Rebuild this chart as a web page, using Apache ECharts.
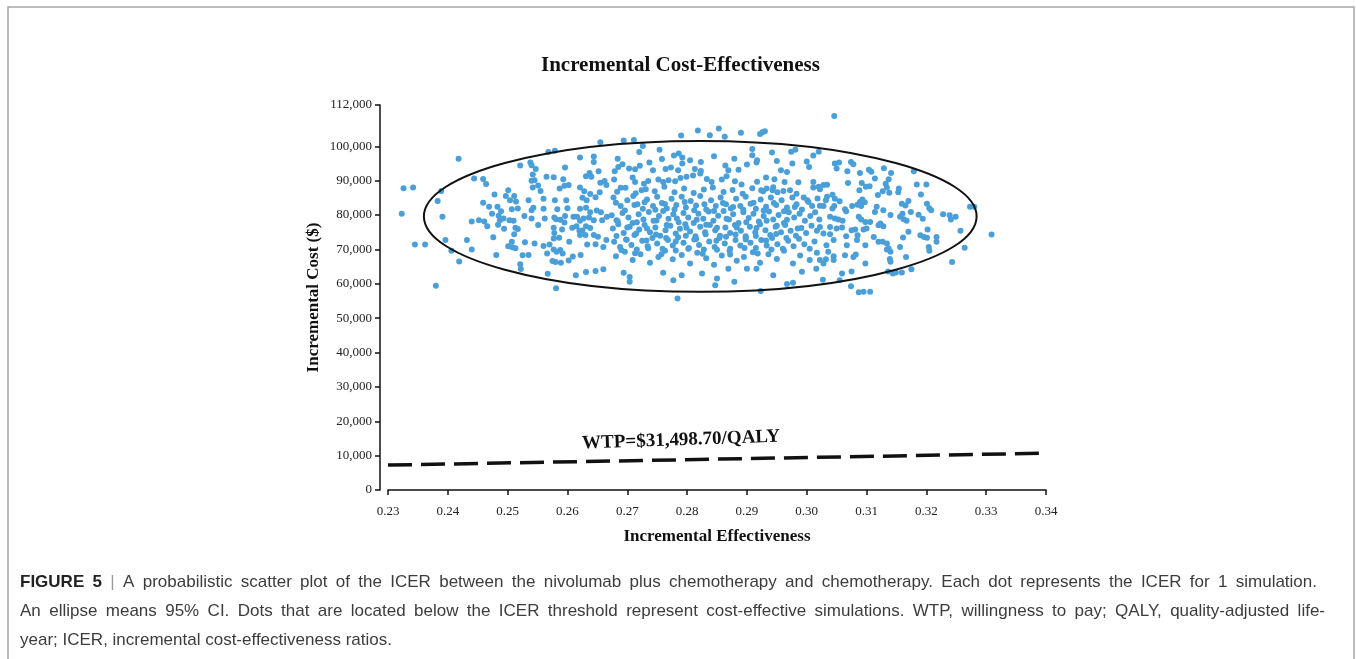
<!DOCTYPE html>
<html>
<head>
<meta charset="utf-8">
<title>Incremental Cost-Effectiveness</title>
<script src="https://cdn.jsdelivr.net/npm/echarts@6/dist/echarts.min.js"></script>
<style>
html,body{margin:0;padding:0;background:#fff;}
#main{width:1356px;height:659px;}
</style>
</head>
<body>
<div id="main"></div>
<script>
// axis ranges (x = incremental effectiveness, y = incremental cost in $)
var xRange = [0.23, 0.34, 0.01];
var yRange = [0, 112000];
var yTicks = [0, 10000, 20000, 30000, 40000, 50000, 60000, 70000, 80000, 90000, 100000, 112000];

// simulations: [effectiveness, cost]
var leftPoints = [
	[0.2418,96400],[0.2326,87800],[0.2342,88000],[0.2323,80400],[0.2345,71400],[0.2362,71400],[0.2380,59400],[0.2389,87000],
	[0.2383,84100],[0.2391,79500],[0.2396,72700],[0.2406,69600],[0.2419,66500],[0.2432,72700],[0.2440,70000],[0.2444,90600],
	[0.2459,90500],[0.2464,89000],[0.2440,78100],[0.2452,78500],[0.2461,78100],[0.2466,76700],[0.2459,83600],[0.2469,82400],
	[0.2478,86000],[0.2476,73500],[0.2481,68400],[0.2474,80400],[0.2483,82400],[0.2485,79800],[0.2484,77200],[0.2489,81100],
	[0.2487,78500],[0.2493,79000],[0.2494,76000],[0.2501,87200],[0.2497,85500],[0.2504,84300],[0.2511,85500],[0.2514,83900],
	[0.2507,81700],[0.2517,81900],[0.2503,78500],[0.2510,78300],[0.2513,76300],[0.2517,75900],[0.2511,74400],[0.2501,70900],
	[0.2507,72200],[0.2513,70300],[0.2508,70600],[0.2521,94400],[0.2538,95300],[0.2540,94500],[0.2547,93400],[0.2542,91800],
	[0.2540,90000],[0.2545,90100],[0.2542,88000],[0.2551,88600],[0.2555,87000],[0.2535,84300],[0.2540,81400],[0.2543,82100],
	[0.2528,79700],[0.2540,79000],[0.2551,77100],[0.2529,72100],[0.2545,71700],[0.2525,68300],[0.2535,68400],[0.2521,65700],
	[0.2522,64300],[0.2560,84700],[0.2560,81800],[0.2565,91100],[0.2577,91000],[0.2579,84300],[0.2583,81700],[0.2578,79300],
	[0.2581,78800],[0.2588,78600],[0.2595,77800],[0.2562,79000],[0.2577,76300],[0.2578,74800],[0.2577,73200],[0.2586,73400],
	[0.2591,75800],[0.2560,71000],[0.2570,71400],[0.2566,68800],[0.2577,70000],[0.2582,69300],[0.2588,69800],[0.2592,68800],
	[0.2575,66600],[0.2580,66300],[0.2589,66100],[0.2602,66800],[0.2609,67900],[0.2622,68400],[0.2567,62900],[0.2581,58700],
	[0.2568,98300],[0.2579,98700],[0.2596,93800],[0.2593,90400],[0.2587,87700],[0.2595,88500],[0.2602,88700],[0.2598,84300],
	[0.2600,82000],[0.2596,79700],[0.2610,79500],[0.2608,76300],[0.2603,72200],[0.2614,62500],[0.2621,96700],[0.2631,91300],
	[0.2640,91100],[0.2644,97000],[0.2644,95400],[0.2652,92700],[0.2637,92200],[0.2621,88000],[0.2628,86900],[0.2638,86100],
	[0.2625,85000],[0.2632,84300],[0.2647,85200],[0.2654,86600],[0.2655,89400],[0.2662,89900],[0.2665,88700],[0.2621,81800],
	[0.2631,82100],[0.2638,80800],[0.2649,81300],[0.2656,80800],[0.2616,79500],[0.2621,78300],[0.2627,79000],[0.2636,79300],
	[0.2644,78500],[0.2658,78500],[0.2666,79500],[0.2615,76700],[0.2620,75400],[0.2625,75500],[0.2631,76700],[0.2638,76200],
	[0.2621,74200],[0.2630,74200],[0.2644,74200],[0.2651,73700],[0.2633,71400],[0.2647,71500],[0.2660,70700],[0.2665,72700],
	[0.2631,63400],[0.2647,63700],[0.2660,64200],[0.2655,101200]
];

var centreTopPoints = [
	[0.2790,103100],[0.2818,104600],[0.2838,103200],[0.2853,105200],[0.2863,102800],[0.2890,103900],[0.2922,103600],[0.2926,104100],
	[0.2930,104400],[0.2694,101700],[0.2711,101800],[0.2726,100100],[0.2720,98300],[0.2754,99000],[0.2786,97900],[0.2792,96700],
	[0.2778,97300],[0.2758,96300],[0.2845,97100],[0.2879,96400],[0.2909,99200],[0.2909,97400],[0.2917,95900],[0.2942,98200],
	[0.2950,95700],[0.2974,98400],[0.2981,99000],[0.3000,95600],[0.3011,97300],[0.3020,98400],[0.3004,94000],[0.2684,96400],
	[0.2685,94000],[0.2679,92700],[0.2692,94800],[0.2703,93500],[0.2713,93300],[0.2721,94300],[0.2737,95300],[0.2743,93000],
	[0.2764,93400],[0.2773,93800],[0.2785,93000],[0.2792,95000],[0.2805,95900],[0.2823,95400],[0.2813,93400],[0.2823,92800],
	[0.2864,94400],[0.2869,93000],[0.2886,93200],[0.2900,94700],[0.2916,95300],[0.2932,90900],[0.2946,90400],[0.2957,93000],
	[0.2967,92500],[0.2976,95000],[0.2986,89500],[0.3011,89600],[0.3020,88200],[0.2678,90300],[0.2689,87900],[0.2709,90900],
	[0.2713,89600],[0.2728,89100],[0.2735,89900],[0.2724,87200],[0.2752,90300],[0.2760,89600],[0.2769,90100],[0.2780,89800],
	[0.2789,90800],[0.2799,91100],[0.2810,91500],[0.2822,92100],[0.2833,90500],[0.2841,89600],[0.2858,90300],[0.2866,91300],
	[0.2880,89800],[0.2891,88900],[0.2917,89700],[0.2924,87200],[0.2933,87700],[0.2943,87200],[0.2951,86600],[0.2963,89600],
	[0.2972,87200],[0.2983,86200],[0.2995,85100],[0.3003,83800],[0.3011,88000]
];

var centreBandPoints = [
	[0.2677,85100],[0.2689,82600],[0.2700,84300],[0.2710,85500],[0.2717,83100],[0.2726,81800],[0.2733,84500],[0.2743,82600],
	[0.2750,85300],[0.2758,83500],[0.2766,81900],[0.2774,84700],[0.2782,82900],[0.2791,85300],[0.2798,82200],[0.2806,84100],
	[0.2815,82800],[0.2822,85500],[0.2832,81600],[0.2840,84300],[0.2848,82600],[0.2856,85100],[0.2865,83100],[0.2873,81900],
	[0.2882,84700],[0.2889,82600],[0.2898,85300],[0.2906,83300],[0.2915,81800],[0.2923,84500],[0.2932,82400],[0.2940,85100],
	[0.2949,82900],[0.2958,84300],[0.2967,82200],[0.2976,85100],[0.2983,83100],[0.2992,81600],[0.3001,84300],[0.3009,82600],
	[0.3018,84800],
	[0.2674,79900],[0.2682,78500],[0.2692,80600],[0.2702,79300],[0.2709,77700],[0.2719,80200],[0.2727,78700],[0.2736,80900],
	[0.2744,78300],[0.2753,79700],[0.2760,81200],[0.2769,78900],[0.2777,80200],[0.2786,77900],[0.2794,80600],[0.2802,79300],
	[0.2811,77700],[0.2819,80400],[0.2827,78900],[0.2836,81000],[0.2844,78300],[0.2852,79800],[0.2861,81200],[0.2870,78700],
	[0.2877,80200],[0.2886,77700],[0.2894,80800],[0.2903,79100],[0.2911,80400],[0.2920,78100],[0.2928,79700],[0.2937,81000],
	[0.2944,78700],[0.2953,80000],[0.2962,77700],[0.2970,80800],[0.2979,79300],[0.2988,80400],[0.2997,78300],[0.3006,79700],
	[0.3014,80800],[0.3021,78700],
	[0.2676,76100],[0.2685,77300],[0.2694,74800],[0.2704,76600],[0.2712,74200],[0.2720,75800],[0.2729,77100],[0.2738,75000],
	[0.2747,76400],[0.2755,74000],[0.2764,75600],[0.2772,76900],[0.2781,74600],[0.2788,76000],[0.2797,77300],[0.2805,75200],
	[0.2814,73800],[0.2822,76600],[0.2830,75000],[0.2838,77100],[0.2847,75600],[0.2855,74000],[0.2864,76400],[0.2872,74800],
	[0.2880,77100],[0.2890,75400],[0.2898,73800],[0.2905,76600],[0.2914,75000],[0.2922,77300],[0.2931,75600],[0.2939,74200],
	[0.2948,76600],[0.2957,75000],[0.2964,77100],[0.2973,75400],[0.2982,74000],[0.2991,76200],[0.2999,74800],[0.3008,76900],
	[0.3017,75400],
	[0.2678,72200],[0.2688,70700],[0.2698,72900],[0.2707,71300],[0.2716,70000],[0.2725,72500],[0.2734,70900],[0.2742,73300],
	[0.2750,71700],[0.2759,70200],[0.2768,72700],[0.2776,71100],[0.2785,73500],[0.2794,71900],[0.2803,70400],[0.2812,72900],
	[0.2820,71300],[0.2828,70000],[0.2837,72300],[0.2846,70700],[0.2854,73300],[0.2863,71700],[0.2872,70200],[0.2881,72700],
	[0.2889,71100],[0.2898,73500],[0.2906,71900],[0.2915,70400],[0.2924,72700],[0.2933,71100],[0.2942,73300],[0.2951,71500],
	[0.2960,70200],[0.2969,72500],[0.2978,70900],[0.2987,73100],[0.2996,71500],[0.3005,70200],[0.3013,72300],
	[0.2681,68000],[0.2696,69300],[0.2709,66900],[0.2722,68600],[0.2738,66100],[0.2752,67800],[0.2763,69600],[0.2776,67100],
	[0.2791,68400],[0.2805,65900],[0.2817,69000],[0.2832,67400],[0.2845,65500],[0.2858,68200],[0.2871,69600],[0.2883,66700],
	[0.2895,67800],[0.2910,69200],[0.2922,66100],[0.2936,68600],[0.2950,67200],[0.2962,69600],[0.2977,65900],[0.2989,68200],
	[0.3005,66900],[0.3017,69000],
	[0.2694,63200],[0.2704,62000],[0.2704,60600],[0.2760,63200],[0.2777,61000],[0.2791,62500],[0.2825,63000],[0.2850,61500],
	[0.2847,59600],[0.2869,64400],[0.2879,60600],[0.2900,64400],[0.2916,64400],[0.2944,62500],[0.2967,59900],[0.2977,60300],
	[0.2992,63500],[0.3016,64400],[0.2923,57900],[0.2784,55700]
];

// the saturated core of the cloud
var corePoints = [
	[0.2683,86800],[0.2697,87900],[0.2714,86300],[0.2731,87500],[0.2746,86900],[0.2762,88200],[0.2779,86600],[0.2795,87700],
	[0.2811,86400],[0.2828,87400],[0.2843,88000],[0.2861,86700],[0.2876,87300],[0.2893,86200],[0.2909,87800],[0.2927,86900],
	[0.2944,88100],[0.2961,87000],
	[0.2681,83600],[0.2696,81300],[0.2712,82900],[0.2729,83700],[0.2747,81500],[0.2763,83200],[0.2779,81600],[0.2796,83800],
	[0.2812,81400],[0.2829,83100],[0.2845,81200],[0.2860,83500],[0.2877,82300],[0.2894,81500],[0.2911,83600],[0.2928,81300],
	[0.2945,83500],[0.2962,81100],[0.2980,82300],
	[0.2684,78200],[0.2700,76400],[0.2716,77900],[0.2733,76100],[0.2749,78400],[0.2766,77100],[0.2783,79000],[0.2799,76300],
	[0.2816,78600],[0.2832,77200],[0.2850,76300],[0.2866,78900],[0.2883,76400],[0.2899,77900],[0.2916,76200],[0.2933,78300],
	[0.2950,76900],[0.2967,78600],[0.2985,76100],
	[0.2682,73900],[0.2699,72800],[0.2715,74600],[0.2732,72600],[0.2748,74300],[0.2765,73300],[0.2781,72300],[0.2798,74000],
	[0.2815,73000],[0.2831,74400],[0.2849,72500],[0.2865,73700],[0.2881,74300],[0.2898,72900],[0.2915,73900],[0.2932,72600],
	[0.2949,74500],[0.2966,73300],
	[0.2690,69800],[0.2713,68900],[0.2735,70300],[0.2757,68600],[0.2781,69700],[0.2802,70200],[0.2826,68700],[0.2850,69900],
	[0.2872,68500],[0.2896,70400],[0.2918,68800],[0.2941,70000]
];

var rightPoints = [
	[0.3046,108800],[0.3047,95000],[0.3054,95300],[0.3050,93500],[0.3074,95400],[0.3078,94800],[0.3068,92700],[0.3089,92200],
	[0.3104,93200],[0.3108,92600],[0.3129,93600],[0.3141,92200],[0.3137,90400],[0.3179,92700],[0.3069,89300],[0.3092,89300],
	[0.3099,88200],[0.3105,88400],[0.3114,90600],[0.3132,89100],[0.3134,88000],[0.3127,86900],[0.3138,86500],[0.3154,87700],
	[0.3153,86600],[0.3184,88900],[0.3200,88900],[0.3191,86000],[0.3088,87200],[0.3119,85800],[0.3022,87500],[0.3028,88700],
	[0.3034,88800],[0.3034,85300],[0.3032,84300],[0.3043,85900],[0.3047,84700],[0.3055,84000],[0.3022,82700],[0.3028,82600],
	[0.3043,81900],[0.3046,82600],[0.3064,81700],[0.3066,81100],[0.3076,82600],[0.3085,83000],[0.3089,83800],[0.3093,84500],
	[0.3097,83700],[0.3091,82600],[0.3117,82400],[0.3128,81400],[0.3140,80000],[0.3159,83300],[0.3165,82800],[0.3170,84100],
	[0.3160,80400],[0.3156,79500],[0.3162,78800],[0.3167,78300],[0.3187,80100],[0.3194,78900],[0.3205,82000],[0.3201,83300],
	[0.3208,81400],[0.3228,80200],[0.3239,79900],[0.3249,79500],[0.3241,78700],[0.3273,82400],[0.3280,82400],[0.3174,80900],
	[0.3039,79500],[0.3047,79000],[0.3053,78700],[0.3060,78300],[0.3087,79500],[0.3091,78700],[0.3098,78000],[0.3106,78000],
	[0.3114,80900],[0.3123,77500],[0.3128,76700],[0.3120,77000],[0.3022,76500],[0.3039,76500],[0.3050,76100],[0.3059,76400],
	[0.3075,75600],[0.3081,75800],[0.3095,75800],[0.3100,76100],[0.3028,74600],[0.3039,74400],[0.3045,72700],[0.3066,73800],
	[0.3085,74100],[0.3084,72700],[0.3112,73600],[0.3120,72200],[0.3127,72200],[0.3134,71700],[0.3137,70250],[0.3140,69300],
	[0.3134,70000],[0.3156,70700],[0.3161,73450],[0.3170,75100],[0.3190,74100],[0.3196,73600],[0.3201,73400],[0.3202,75800],
	[0.3217,73600],[0.3217,72200],[0.3204,70700],[0.3205,69600],[0.3257,75400],[0.3264,70500],[0.3309,74300],[0.3243,66300],
	[0.3033,71200],[0.3036,69300],[0.3067,71200],[0.3064,68300],[0.3078,67800],[0.3082,68500],[0.3098,71200],[0.3022,66900],
	[0.3028,65900],[0.3032,67100],[0.3045,68000],[0.3045,66900],[0.3098,65900],[0.3139,67200],[0.3140,66400],[0.3166,67800],
	[0.3136,63600],[0.3144,63000],[0.3149,63300],[0.3159,63300],[0.3175,64200],[0.3075,63600],[0.3059,63000],[0.3055,61000],
	[0.3027,61200],[0.3074,59300],[0.3087,57500],[0.3095,57700],[0.3106,57700]
];

// 95% CI ellipse: centre and half-widths in data units
var ellipseCentre = [0.2822, 79600];
var ellipseRadii = [0.0462, 21950];

// WTP threshold line ends and its label
var wtpLine = [[0.23, 7245], [0.34, 10710]];
var wtpLabelAt = [0.2790, 14500];
var wtpText = 'WTP=$31,498.70/QALY';

var captionLines = [
	'FIGURE 5 | A probabilistic scatter plot of the ICER between the nivolumab plus chemotherapy and chemotherapy. Each dot represents the ICER for 1 simulation.',
	'An ellipse means 95% CI. Dots that are located below the ICER threshold represent cost-effective simulations. WTP, willingness to pay; QALY, quality-adjusted life-',
	'year; ICER, incremental cost-effectiveness ratios.'
];
var captionRight = [1317, 1325, 0];

var serif = '"Liberation Serif", "Times New Roman", serif';
var sans = '"Liberation Sans", Arial, sans-serif';
var capFont = '17px ' + sans;
var capBold = 'bold 17px ' + sans;

var measure = document.createElement('canvas').getContext('2d');
function textWidth(s, font){
	measure.font = font;
	return measure.measureText(s).width;
}

// justified caption: every word is its own text element
function captionLine(line, idx){
	var words = line.split(' ');
	var left = 20, right = captionRight[idx], y = 582 + idx * 29;
	var items = words.map(function(w, i){
		var font = capFont, fill = '#3c3c3c';
		if(idx === 0 && i < 2){ font = capBold; fill = '#222'; }
		if(w === '|'){ fill = '#999'; }
		return {text:w, font:font, fill:fill, w:textWidth(w, font)};
	});
	var total = 0;
	items.forEach(function(it){ total += it.w; });
	var gap = right ? (right - left - total) / (items.length - 1) : textWidth(' ', capFont);
	var x = left;
	return items.map(function(it){
		var el = {type:'text', x:x, y:y, silent:true,
			style:{text:it.text, font:it.font, fill:it.fill, verticalAlign:'middle'}};
		x += it.w + gap;
		return el;
	});
}

var captionGraphics = [];
captionLines.forEach(function(l, i){
	captionGraphics = captionGraphics.concat(captionLine(l, i));
});

var myChart = echarts.init(document.getElementById('main'));

option = {
	backgroundColor:'#fff',
	animation:false,
	title:{
		text:'Incremental Cost-Effectiveness',
		left:536, top:50,
		textStyle:{fontFamily:serif, fontWeight:'bold', fontSize:21, color:'#111'}
	},
	graphic:[
		{type:'rect', shape:{x:8, y:7, width:1346, height:670}, style:{fill:'none', stroke:'#a6a6a6', lineWidth:1.5}, silent:true}
	].concat(captionGraphics),
	grid:{left:388, right:310, top:105, bottom:169},
	xAxis:{
		type:'value', min:xRange[0], max:xRange[1], interval:xRange[2],
		offset:8,
		name:'Incremental Effectiveness', nameLocation:'middle', nameGap:30,
		nameTextStyle:{fontFamily:serif, fontWeight:'bold', fontSize:17, color:'#111'},
		axisLine:{lineStyle:{color:'#111', width:1.5}},
		axisTick:{length:5, lineStyle:{color:'#111', width:1.5}},
		axisLabel:{fontFamily:serif, fontSize:13, color:'#222', margin:7, formatter:function(v){ return v.toFixed(2); }},
		splitLine:{show:false}
	},
	yAxis:{
		type:'value', min:yRange[0], max:yRange[1],
		offset:8,
		name:'Incremental Cost ($)', nameLocation:'middle', nameGap:58,
		nameTextStyle:{fontFamily:serif, fontWeight:'bold', fontSize:17, color:'#111'},
		axisLine:{lineStyle:{color:'#111', width:1.5}},
		axisTick:{length:5, customValues:yTicks, lineStyle:{color:'#111', width:1.5}},
		axisLabel:{fontFamily:serif, fontSize:13, color:'#222', margin:8, customValues:yTicks,
			formatter:function(v){ return Number(v).toLocaleString('en-US'); }},
		splitLine:{show:false}
	},
	series:[
		{
			name:'simulations', type:'scatter', symbolSize:6,
			itemStyle:{color:'#4a9fd8', opacity:1},
			data:leftPoints.concat(centreTopPoints, centreBandPoints, corePoints, rightPoints),
			z:2
		},
		{
			name:'ellipse', type:'custom', silent:true, z:3,
			data:[ellipseCentre],
			renderItem:function(params, api){
				var c = api.coord(ellipseCentre);
				var e = api.coord([ellipseCentre[0] + ellipseRadii[0], ellipseCentre[1] + ellipseRadii[1]]);
				return {
					type:'ellipse',
					shape:{cx:c[0], cy:c[1], rx:Math.abs(e[0] - c[0]), ry:Math.abs(c[1] - e[1])},
					style:{fill:null, stroke:'#111', lineWidth:2}
				};
			}
		},
		{
			name:'WTP', type:'line', symbol:'none', silent:true, z:4,
			data:wtpLine,
			lineStyle:{color:'#111', width:3.5, type:[24, 9]},
			markPoint:{
				symbol:'circle', symbolSize:0, silent:true,
				data:[{coord:wtpLabelAt}],
				label:{show:true, position:'inside', rotate:2, formatter:wtpText,
					fontFamily:serif, fontWeight:'bold', fontSize:19, color:'#111'}
			}
		}
	]
};
myChart.setOption(option);
</script>
</body>
</html>
